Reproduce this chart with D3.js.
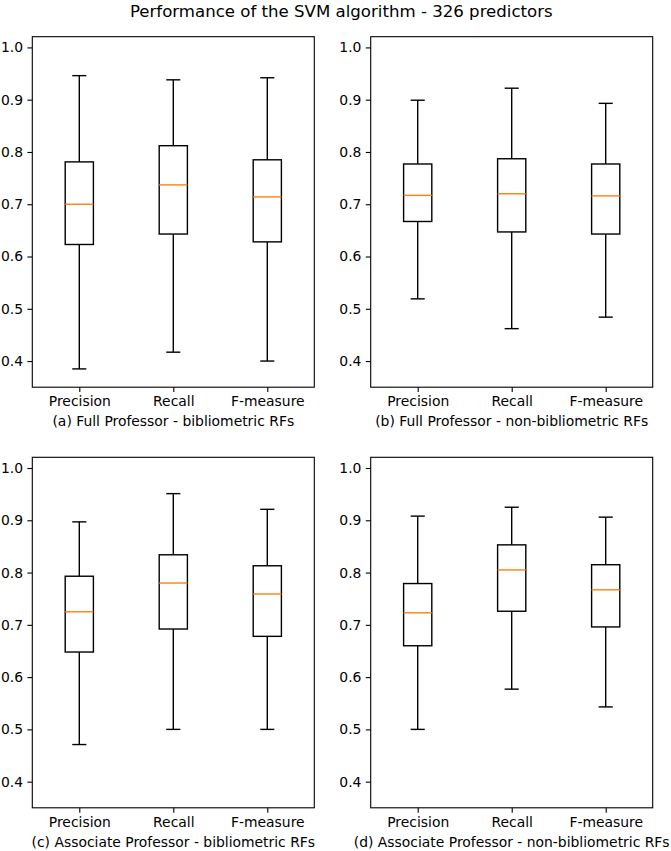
<!DOCTYPE html>
<html>
<head>
<meta charset="utf-8">
<script src="https://cdn.jsdelivr.net/npm/d3@7"></script>
<style>
  body { margin: 0; background: white; }
  svg text { font-family: "DejaVu Sans", sans-serif; fill: #000; }
</style>
</head>
<body>
<div id="chart"></div>
<script>
// box stats per metric: [lower whisker, Q1, median, Q3, upper whisker]
const metrics = ["Precision", "Recall", "F-measure"];
const captions = [
  "(a) Full Professor - bibliometric RFs",
  "(b) Full Professor - non-bibliometric RFs",
  "(c) Associate Professor - bibliometric RFs",
  "(d) Associate Professor - non-bibliometric RFs"
];
const fullBiblio = [
  [0.385, 0.623, 0.700, 0.781, 0.946],
  [0.417, 0.643, 0.737, 0.812, 0.938],
  [0.400, 0.628, 0.714, 0.785, 0.942]
];
const fullNonBiblio = [
  [0.519, 0.667, 0.717, 0.777, 0.899],
  [0.462, 0.647, 0.720, 0.787, 0.922],
  [0.484, 0.643, 0.716, 0.777, 0.893]
];
const assocBiblio = [
  [0.471, 0.648, 0.725, 0.793, 0.897],
  [0.500, 0.692, 0.780, 0.834, 0.951],
  [0.500, 0.678, 0.759, 0.813, 0.921]
];
const assocNonBiblio = [
  [0.500, 0.660, 0.723, 0.779, 0.908],
  [0.577, 0.726, 0.805, 0.853, 0.925],
  [0.543, 0.696, 0.767, 0.815, 0.906]
];
const yTicks = [0.4, 0.5, 0.6, 0.7, 0.8, 0.9, 1.0];
const panels = [fullBiblio, fullNonBiblio, assocBiblio, assocNonBiblio];

const width = 671, height = 851;
const svg = d3.select("#chart").append("svg")
  .attr("width", width)
  .attr("height", height);

svg.append("text")
  .attr("x", 341.3)
  .attr("y", 16.5)
  .attr("text-anchor", "middle")
  .attr("font-size", "16.6px")
  .text("Performance of the SVM algorithm - 326 predictors");

// axes boxes (left, top) for each panel
const origins = [[32.3, 36.7], [370.7, 36.7], [32.3, 457.3], [370.7, 457.3]];
const pw = 282, ph = 350.5;
const fs = "13.9px";

panels.forEach((stats, p) => {
  const g = svg.append("g")
    .attr("transform", "translate(" + origins[p][0] + "," + origins[p][1] + ")");

  const x = d3.scaleLinear().domain([0.5, 3.5]).range([0, pw]);
  const y = d3.scaleLinear().domain([0.35, 1.0205]).range([ph, 0]);
  const boxW = x(1.3) - x(1);
  const capW = boxW / 2;

  // y axis
  const yAxis = d3.axisLeft(y).tickValues(yTicks).tickFormat(d3.format(".1f")).tickSizeOuter(0).tickSize(4.9).tickPadding(4.4);
  const ya = g.append("g").call(yAxis);
  ya.select(".domain").remove();
  ya.selectAll("line").attr("stroke", "#000").attr("stroke-width", 1.1);
  ya.selectAll("text").attr("font-size", fs).attr("fill", "#000");

  const xAxis = d3.axisBottom(x).tickValues([1, 2, 3]).tickFormat((d, i) => metrics[i]).tickSizeOuter(0).tickSize(4.9).tickPadding(4.4);
  const xa = g.append("g").attr("transform", "translate(0," + ph + ")").call(xAxis);
  xa.select(".domain").remove();
  xa.selectAll("line").attr("stroke", "#000").attr("stroke-width", 1.1);
  xa.selectAll("text").attr("font-size", fs).attr("fill", "#000");

  const items = g.selectAll("g.box").data(stats).enter().append("g").attr("class", "box");

  // whiskers
  items.append("line")
    .attr("x1", (d, i) => x(i + 1)).attr("x2", (d, i) => x(i + 1))
    .attr("y1", d => y(d[0])).attr("y2", d => y(d[1]))
    .attr("stroke", "#000").attr("stroke-width", 1.4);
  items.append("line")
    .attr("x1", (d, i) => x(i + 1)).attr("x2", (d, i) => x(i + 1))
    .attr("y1", d => y(d[3])).attr("y2", d => y(d[4]))
    .attr("stroke", "#000").attr("stroke-width", 1.4);
  // caps
  items.append("line")
    .attr("x1", (d, i) => x(i + 1) - capW / 2).attr("x2", (d, i) => x(i + 1) + capW / 2)
    .attr("y1", d => y(d[0])).attr("y2", d => y(d[0]))
    .attr("stroke", "#000").attr("stroke-width", 1.4);
  items.append("line")
    .attr("x1", (d, i) => x(i + 1) - capW / 2).attr("x2", (d, i) => x(i + 1) + capW / 2)
    .attr("y1", d => y(d[4])).attr("y2", d => y(d[4]))
    .attr("stroke", "#000").attr("stroke-width", 1.4);
  // box
  items.append("rect")
    .attr("x", (d, i) => x(i + 1) - boxW / 2)
    .attr("y", d => y(d[3]))
    .attr("width", boxW)
    .attr("height", d => y(d[1]) - y(d[3]))
    .attr("fill", "none").attr("stroke", "#000").attr("stroke-width", 1.4);
  // median
  items.append("line")
    .attr("x1", (d, i) => x(i + 1) - boxW / 2).attr("x2", (d, i) => x(i + 1) + boxW / 2)
    .attr("y1", d => y(d[2])).attr("y2", d => y(d[2]))
    .attr("stroke", "#ff7f0e").attr("stroke-width", 1.4);

  // frame
  g.append("rect")
    .attr("width", pw).attr("height", ph)
    .attr("fill", "none").attr("stroke", "#000").attr("stroke-width", 1.1);

  svg.append("text")
    .attr("x", origins[p][0] + pw / 2)
    .attr("y", origins[p][1] + ph + 39)
    .attr("text-anchor", "middle")
    .attr("font-size", fs)
    .text(captions[p]);
});
</script>
</body>
</html>
